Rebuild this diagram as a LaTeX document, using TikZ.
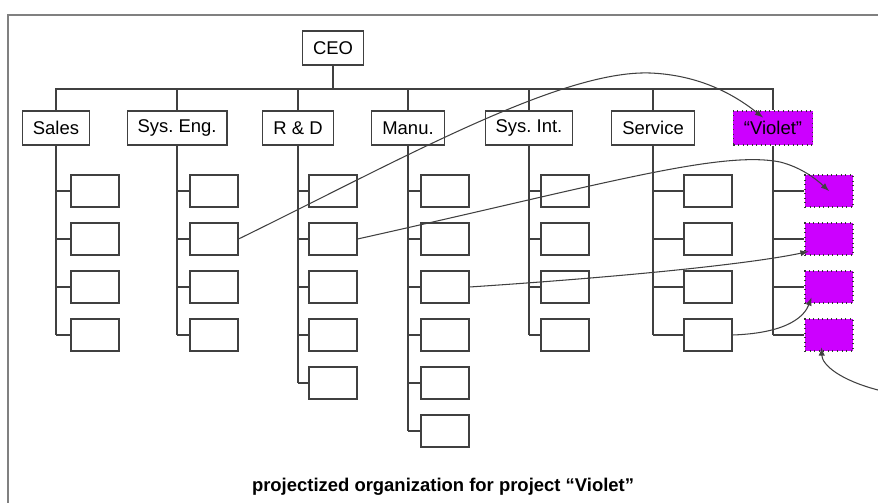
\documentclass[tikz,border=0pt]{standalone}
\usepackage{fontspec}
\setmainfont{Liberation Sans}
\usetikzlibrary{calc}
\definecolor{projviolet}{RGB}{204,0,255}
\frenchspacing

\begin{document}
\begin{tikzpicture}[x=0.02cm, y=-0.02cm, line width=0.6pt, >=latex,
  dept/.style={draw=black!75, fill=white, inner xsep=0.21cm, minimum height=0.68cm, font=\fontsize{10.5}{12}\selectfont},
  job/.style={draw=black!75, fill=white, minimum width=0.96cm, minimum height=0.64cm},
  proj/.style={fill=projviolet, draw=black!80, dotted},
  vjob/.style={job, proj}]
  \useasboundingbox (0,0) rectangle (878,503);
  \draw[gray] (8,503) -- (8,15) -- (878,15);
  % top level
  \node [dept] (q0) at (333,48) {CEO};
  \node [dept] (q1) at (56,128) {Sales};
  \node [dept] (q2) at (177,128) {Sys. Eng.};
  \node [dept] (q3) at (298,128) {R \& D};
  \node [dept] (q4) at (408,128) {Manu.};
  \node [dept] (q5) at (529,128) {Sys. Int.};
  \node [dept] (q6) at (653,128) {Service};
  \node [dept,proj] (q7) at (773,128) {“Violet”};
  \coordinate (bus) at (333,89);
  \draw[black!75] (q0.south) -- (q0 |- bus);
  \draw[black!75] (q1.north) -- (q1 |- bus) -- (q7 |- bus) -- (q7.north);
  \foreach \d in {2,...,6}
    \draw[black!75] (q\d.north) -- (q\d |- bus);
  % staff boxes under each department
  \foreach \d/\x/\n/\s in {1/95/4/job, 2/214/4/job, 3/333/5/job, 4/445/6/job, 5/565/4/job, 6/708/4/job, 7/829/4/vjob} {
    \foreach \k in {1,...,\n} {
      \node [\s] (q\d-\k) at (\x,143+48*\k) {};
      \draw[black!75] (q\d-\k.west) -- (q\d-\k -| q\d);
    }
    \draw[black!75] (q\d.south) -- (q\d |- q\d-\n.west);
  }
  % people moved into the project
  \coordinate (ext) at (878,390);
  \path[->, draw=black!75] (q2-2.east) .. controls (400,160) and (560,70) .. (650,73)
    .. controls (700,75) and (735,95) .. ($(q7.north)+(-10,7)$);
  \path[->, draw=black!75] (q3-2.east) .. controls (600,185) and (720,150) .. (780,162)
    .. controls (800,167) and (815,178) .. (q7-1.center);
  \path[->, draw=black!75] (q4-3.east) .. controls (650,275) and (760,262) .. ($(q7-2.south west)+(4,-4)$);
  \path[->, draw=black!75] (q6-4.east) .. controls (790,333) and (805,315) .. ($(q7-3.south west)+(7,-6)$);
  \path[->, draw=black!75] (ext) .. controls (840,380) and (822,365) .. ($(q7-4.south west)+(17,-4)$);
  \node [font=\bfseries\fontsize{10.5}{12}\selectfont] (cap) at (443,487) {projectized organization for project “Violet”};
\end{tikzpicture}
\end{document}
